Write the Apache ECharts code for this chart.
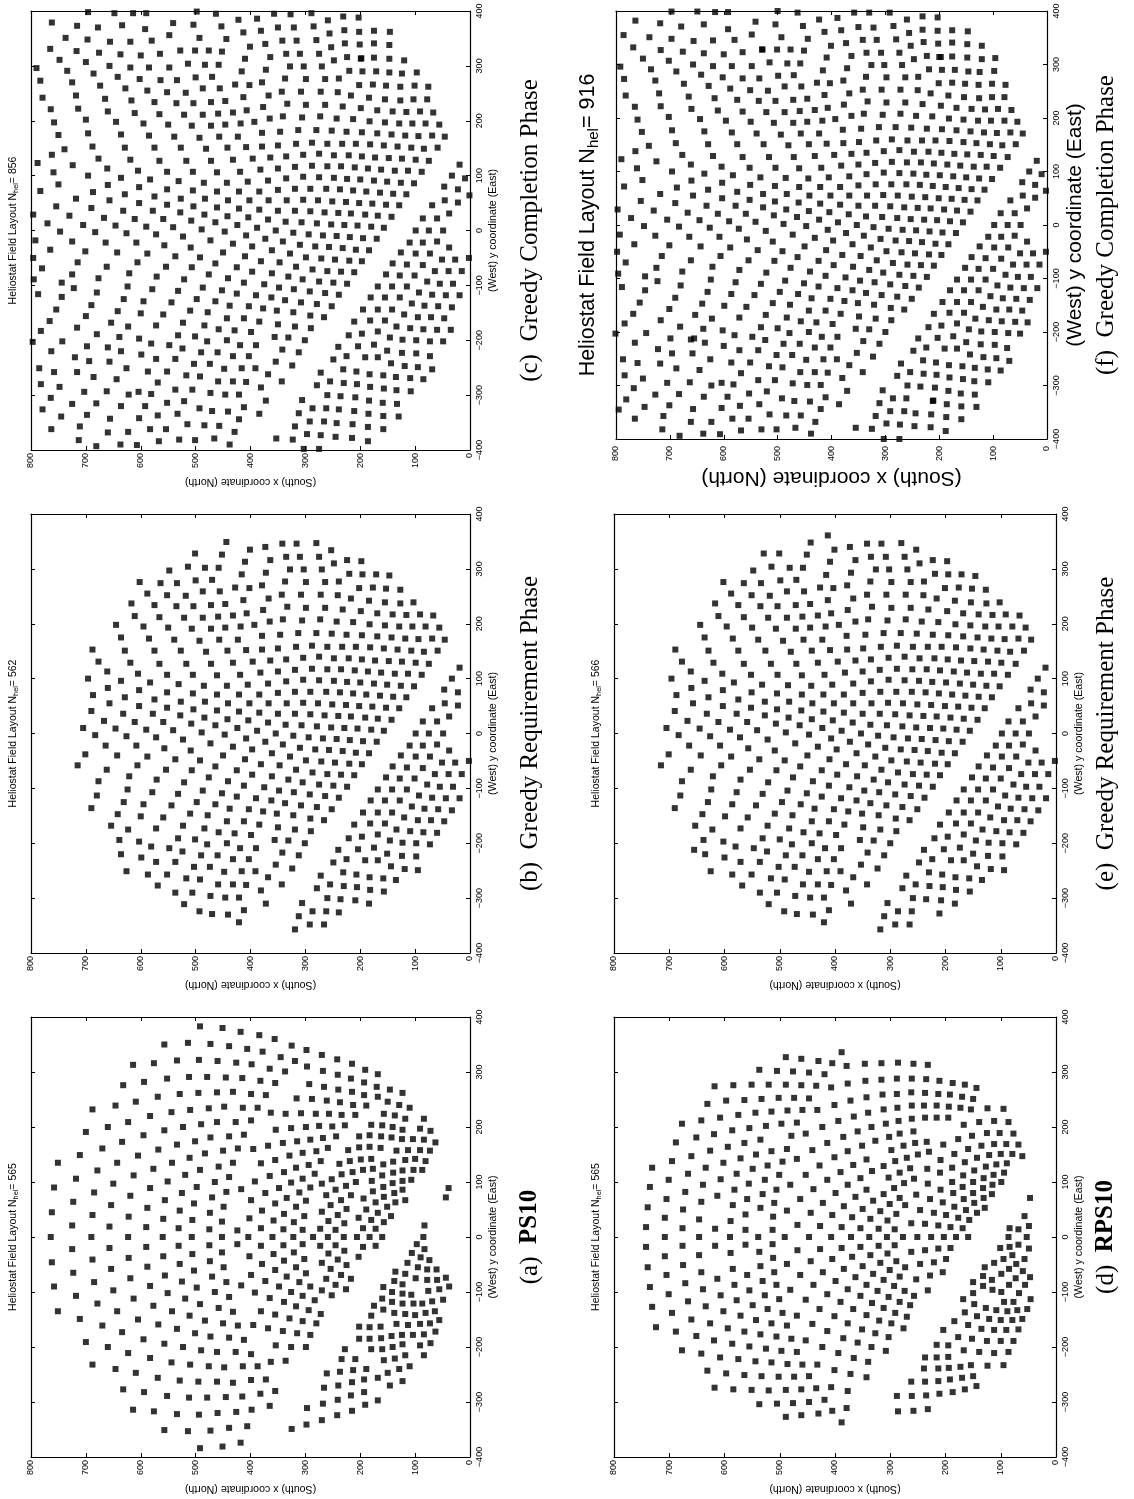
<!DOCTYPE html>
<html><head><meta charset="utf-8">
<script src="https://cdn.jsdelivr.net/npm/echarts@6/dist/echarts.min.js"></script>
<style>html,body{margin:0;padding:0;background:#fff}#c{width:1134px;height:1499px}</style>
</head><body><div id="c"></div>
<script>
// Each heliostat is [north (x coordinate), east (y coordinate)].
const fieldA=[[492,383],[451,380],[418,373],[384,367],[356,360],[557,350],[514,353],[473,351],[439,347],[406,342],[378,337],[325,348],[614,313],[576,316],[534,321],[494,322],[460,320],[426,317],[398,314],[345,327],[319,320],[298,340],[270,331],[365,306],[337,301],[297,310],[268,302],[242,323],[215,315],[191,304],[168,296],
[632,276],[594,282],[552,288],[512,291],[479,291],[445,290],[415,289],[382,284],[355,280],[293,278],[266,273],[241,295],[217,288],[193,281],[170,273],[569,255],[529,260],[495,262],[461,263],[432,264],[399,260],[372,258],[316,252],[288,251],[261,248],[240,268],[215,264],[193,258],[168,255],[146,268],[123,262],
[609,246],[688,232],[646,239],[544,227],[510,231],[476,234],[448,237],[414,235],[387,235],[363,226],[336,224],[308,225],[281,224],[257,224],[237,245],[213,240],[189,239],[150,246],[129,240],[110,235],[234,222],[209,222],[157,224],[137,221],[118,215],[84,215],
[583,220],[623,209],[660,200],[700,191],[557,194],[595,185],[523,200],[490,205],[461,209],[427,209],[399,212],[354,195],[326,198],[299,200],[275,202],[251,201],[228,203],[180,204],[160,203],[141,200],[123,195],[91,197],[72,193],
[634,173],[670,161],[711,149],[751,135],[605,148],[501,174],[473,181],[439,183],[412,186],[534,168],[568,159],[395,160],[423,161],[450,157],[483,152],[368,166],[341,171],[315,174],[291,177],[268,180],[244,183],[202,183],[183,185],[162,183],[143,181],[124,178],[104,178],[84,177],[63,172],
[280,156],[305,153],[329,148],[259,162],[222,158],[202,163],[183,164],[163,162],[134,157],[113,158],[91,158],[73,157],
[643,135],[679,121],[718,106],[758,90],[613,112],[577,124],[543,135],[511,144],[458,128],[492,122],[432,135],[381,134],[355,140],[339,118],[317,126],[294,131],[272,138],[238,133],[219,138],[199,141],[180,142],[158,132],[140,137],[118,140],[100,142],[81,138],
[519,113],[551,101],[650,97],[498,91],[583,89],[465,100],[439,109],[392,101],[365,111],[326,99],[305,106],[283,115],[270,97],[252,105],[234,114],[226,93],[208,100],[195,122],[214,118],[179,102],[177,124],[160,112],[140,117],[123,121],[103,122],[87,122],[107,104],[123,102],[141,98],
[685,81],[723,64],[619,75],[556,67],[525,80],[470,72],[444,82],[417,87],[399,67],[373,80],[348,89],[334,71],[311,81],[291,90],[299,66],[262,76],[245,86],[235,67],[217,76],[177,83],[158,91],[194,70],[157,73],[138,80],[123,86],[118,67],[136,63],[172,63],[39,89],[44,72],
[762,45],[654,58],[588,53],[688,40],[503,61],[449,55],[529,48],[474,44],[379,48],[355,61],[317,55],[339,42],[225,51],[254,58],[270,46],[241,40],[189,50],[168,44],[151,55],[144,38],[203,35],[302,38],[402,34],[622,37],[559,33],[506,31],
[725,21],[657,19],[590,18],[531,16],[475,14],[452,28],[424,12],[381,16],[358,30],[340,14],[321,27],[305,13],[273,15],[258,29],[245,13],[229,25],[195,16],[180,31],[172,15],[157,27],[83,21],
[764,0],[690,0],[623,0],[560,0],[507,0],[452,0],[404,0],[360,0],[322,0],[286,0],[259,0],[230,0],[206,0],[183,0],[160,0],[85,0],
[424,-13],[273,-16],[245,-15],[229,-25],[195,-18],[172,-16],[97,-13],[475,-15],[531,-16],[590,-18],[657,-20],[725,-22],[381,-16],[340,-15],[305,-13],[452,-28],[559,-35],[622,-38],[506,-31],[402,-35],[358,-31],[321,-28],[258,-30],[302,-40],[241,-41],[203,-36],[688,-41],[762,-46],[474,-44],[529,-49],[379,-49],[339,-43],[270,-47],[225,-51],[588,-54],[449,-55],[503,-61],[355,-60],[317,-55],[254,-58],[654,-58],[217,-76],[235,-69],[299,-66],[334,-72],[399,-69],[470,-72],[723,-65],[619,-75],[556,-70],[262,-76],[685,-82],[525,-81],[444,-82],[373,-80],[311,-82],[245,-87],[226,-95],[417,-88],[348,-90],[291,-90],[270,-97],[498,-92],[583,-89],[758,-90],[650,-97],[326,-100],[252,-106],[305,-107],[465,-100],[551,-102],[392,-101],[283,-115],[365,-111],[439,-109],[519,-112],[613,-112],[718,-107],[679,-121],[577,-125],[492,-122],[339,-118],[317,-126],[294,-133],[272,-140],[458,-129],[432,-136],[381,-135],[643,-135],[543,-135],[751,-135],[355,-141],[511,-143],[483,-152],[605,-150],[329,-148],[305,-153],[280,-157],[711,-149],[568,-159],[670,-161],[450,-157],[423,-161],[395,-160],[368,-166],[534,-167],[341,-171],[315,-175],[291,-178],[501,-175],[634,-173],[473,-181],[439,-183],[412,-187],[595,-186],[700,-191],[557,-194],[354,-197],[326,-200],[299,-200],[660,-200],[523,-200],[490,-206],[461,-209],[427,-209],[399,-213],[623,-211],[583,-220],[336,-225],[363,-227],[544,-228],[510,-232],[476,-235],[448,-237],[414,-235],[387,-235],[688,-232],[646,-240],[609,-247],[569,-256],[372,-259],[529,-261],[495,-263],[461,-263],[432,-265],[399,-260],[355,-280],[382,-285],[632,-277],[594,-282],[552,-289],[512,-292],[479,-292],[445,-291],[415,-290],[365,-307],[614,-314],[576,-317],[534,-322],[494,-323],[460,-320],[426,-318],[398,-314],[406,-344],[439,-347],[473,-352],[514,-353],[557,-351],[492,-384],[451,-381],[418,-374],
[106,-29],[90,-37],[83,-22],[114,-47],[74,-42],[95,-55],[61,-59],[78,-59],[136,-63],[118,-67],[99,-75],[78,-78],[60,-78],[44,-74],[138,-80],[123,-86],[158,-91],[38,-90],[56,-95],[76,-98],[107,-105],[123,-103],[142,-100],[160,-112],[142,-118],[123,-121],[103,-121],[87,-121],[69,-117],[49,-114],[175,-125],[158,-132],[138,-138],[118,-140],[100,-142],[81,-138],[64,-135],[180,-143],[202,-163],[183,-164],[163,-163],[134,-158],[113,-160],[91,-158],[73,-157],[56,-151],[143,-180],[124,-178],[104,-178],[84,-177],[63,-172],[202,-185],[183,-185],[162,-184],[72,-193],[91,-197],[123,-195],[141,-200],[160,-204],[180,-204],[228,-204],[84,-215],[118,-215],[137,-221],[157,-224],[209,-222],[234,-222],[110,-235],[129,-240],[150,-247],[189,-240],[213,-242],[237,-245],[261,-248],[123,-262],[146,-270],[168,-256],[193,-259],[215,-264],[240,-270],[266,-274],[168,-297],[193,-282],[217,-288],[241,-296],[268,-303],[297,-311],[191,-305],[215,-316],[242,-324],[270,-333],[298,-341],[325,-349]];
const fieldB=[[444,349],[501,328],[452,326],[401,335],[373,340],[342,346],[316,346],[280,347],[253,334],[548,297],[514,304],[483,302],[458,302],[410,313],[364,316],[335,322],[310,322],[275,322],[248,310],[224,316],[198,314],[416,290],[372,293],[328,299],[303,299],[270,299],[220,291],[196,290],[171,290],[147,288],
[602,276],[564,274],[534,274],[500,279],[470,280],[337,277],[299,276],[264,276],[239,277],[588,255],[552,252],[518,251],[487,259],[456,259],[428,266],[402,265],[379,270],[343,253],[308,253],[272,253],[241,252],[202,265],[177,266],[153,264],[127,262],
[617,237],[575,234],[535,232],[504,232],[472,234],[446,236],[413,243],[367,246],[217,246],[184,242],[155,239],[127,237],[103,239],[611,214],[566,212],[521,211],[487,211],[459,213],[432,215],[407,219],[377,225],[333,231],[299,229],[264,229],[232,226],[199,223],[169,219],[141,217],[116,216],[91,217],[67,215],
[645,198],[595,195],[550,193],[507,191],[472,191],[446,193],[418,195],[393,198],[365,204],[341,208],[306,206],[273,208],[243,204],[213,203],[183,199],[155,197],[129,195],[105,195],[81,195],[56,193],[636,175],[585,173],[539,171],[493,169],[457,171],[423,171],[379,178],[346,180],[313,183],[280,183],[252,182],[225,180],[197,179],[169,177],[143,175],[118,173],[94,172],[69,173],[46,171],
[688,153],[629,151],[575,151],[527,151],[481,149],[442,151],[408,152],[379,153],[350,155],[317,158],[288,160],[260,158],[233,158],[208,158],[182,157],[157,155],[132,153],[107,151],[84,149],[59,151],[677,131],[619,129],[566,127],[517,127],[472,127],[432,129],[396,131],[364,133],[335,135],[304,138],[275,140],[248,137],[221,137],[197,135],[173,133],[148,132],[124,131],[99,129],[75,127],[19,120],
[661,113],[605,109],[552,107],[505,107],[461,106],[419,107],[382,111],[350,113],[319,116],[288,118],[260,117],[235,117],[210,115],[186,113],[162,111],[137,109],[113,109],[88,107],[33,100],[696,100],[636,96],[583,93],[531,90],[485,87],[443,87],[405,89],[368,91],[335,95],[304,98],[275,97],[248,96],[224,94],[200,93],[175,91],[151,89],[126,87],[102,86],[47,80],[22,75],
[660,83],[603,79],[552,75],[505,73],[461,71],[421,71],[384,71],[350,74],[319,76],[291,76],[262,76],[237,75],[213,73],[189,71],[164,69],[140,67],[116,66],[687,70],[629,66],[575,62],[527,58],[483,58],[441,55],[402,55],[367,55],[334,55],[304,56],[277,55],[251,53],[226,52],[202,50],[178,49],[153,47],[129,46],[69,46],[46,55],[22,51],
[657,55],[603,50],[552,47],[504,44],[461,42],[421,40],[384,38],[350,36],[319,36],[291,35],[265,33],[240,32],[217,31],[191,29],[168,27],[143,25],[38,31],[690,41],[632,36],[578,36],[528,33],[484,29],[442,26],[404,24],[368,20],[336,16],[307,15],[279,13],[253,11],[229,10],[205,9],[180,7],[157,5],[86,22],[60,22],
[667,23],[611,21],[559,21],[508,18],[464,15],[424,10],[388,5],[354,0],[322,-4],[705,10],[646,9],[590,7],[541,6],[489,2],[447,-2],[99,0],[75,0],[49,0],[683,-3],[626,-5],[572,-7],[523,-11],[473,-18],[408,-9],[373,-15],[294,-7],[268,-9],[243,-10],[219,-12],[195,-14],[170,-15],
[664,-22],[608,-22],[557,-27],[509,-31],[432,-24],[397,-29],[341,-20],[310,-26],[282,-29],[257,-30],[232,-32],[208,-35],[184,-36],[110,-22],[86,-22],[60,-20],[38,-31],[701,-38],[643,-40],[588,-42],[537,-47],[492,-49],[450,-40],[410,-47],[361,-36],[328,-42],[299,-49],[271,-51],[246,-53],[220,-55],[197,-56],[126,-40],[99,-42],[73,-42],
[715,-58],[662,-66],[606,-58],[554,-66],[507,-67],[464,-60],[425,-67],[381,-56],[347,-58],[317,-66],[141,-60],[115,-62],[86,-63],[51,-53],[27,-53],[2,-50],[621,-78],[571,-84],[476,-80],[397,-75],[361,-78],[331,-84],[287,-71],[260,-74],[235,-75],[211,-76],[153,-80],[128,-82],[101,-82],[64,-74],[39,-74],[15,-74],
[677,-87],[521,-89],[441,-87],[412,-95],[375,-98],[305,-89],[275,-93],[249,-95],[224,-97],[78,-93],[55,-97],[31,-97],[624,-102],[579,-107],[487,-104],[452,-109],[348,-104],[321,-107],[168,-102],[142,-102],[115,-102],[93,-113],[69,-117],[44,-118],[19,-118],
[680,-113],[532,-110],[425,-115],[390,-118],[362,-122],[292,-111],[264,-114],[239,-117],[181,-122],[155,-122],[128,-122],[631,-125],[595,-129],[498,-125],[544,-131],[464,-129],[337,-127],[308,-131],[279,-134],[438,-137],[403,-138],[106,-133],[83,-137],[58,-138],[33,-140],[690,-136],
[642,-147],[600,-151],[510,-146],[478,-149],[377,-142],[352,-146],[322,-149],[252,-138],[195,-144],[168,-144],[142,-144],[120,-153],[559,-153],[654,-168],[572,-173],[523,-168],[443,-160],[412,-160],[384,-166],[350,-171],[319,-175],[291,-155],[266,-158],[211,-166],[182,-164],[155,-164],[134,-175],[95,-158],[71,-158],[47,-160],
[623,-175],[484,-173],[458,-180],[429,-182],[399,-185],[290,-178],[197,-188],[168,-184],[109,-178],[85,-180],[60,-181],[221,-191],[639,-194],[603,-197],[532,-191],[501,-193],[479,-202],[443,-200],[356,-194],[331,-195],[301,-200],[146,-195],[123,-199],[98,-200],[73,-202],
[636,-220],[581,-206],[548,-209],[524,-215],[419,-209],[390,-209],[342,-217],[240,-212],[204,-211],[175,-208],[599,-226],[490,-222],[460,-222],[432,-229],[403,-229],[312,-222],[151,-219],[124,-223],[98,-224],[225,-229],[191,-231],
[626,-251],[572,-234],[537,-234],[503,-243],[474,-243],[448,-252],[416,-251],[391,-251],[354,-239],[324,-246],[249,-235],[168,-231],[144,-242],[119,-247],[95,-249],[587,-257],[552,-257],[517,-264],[492,-266],[368,-262],[272,-259],[231,-253],[207,-257],[183,-262],[158,-264],[135,-267],
[569,-277],[459,-275],[432,-275],[408,-276],[381,-286],[343,-275],[279,-282],[255,-275],[230,-278],[206,-280],[182,-285],[157,-288],[537,-290],[506,-290],[473,-296],[446,-299],[421,-299],[260,-300],[236,-302],[209,-304],[521,-311],[372,-310],[306,-309],[184,-310],[493,-324],[470,-329],[441,-330],[412,-322],[312,-333],[287,-324],[262,-324],[239,-326],[421,-344],[319,-357],[292,-348],[266,-348]];
const fieldCExtra=[[696,398],[648,396],[614,396],[590,396],[498,399],[463,395],[357,395],[327,394],[289,396],[762,379],[716,373],[678,370],[634,374],[592,367],[541,378],[504,375],[453,372],[422,384],[388,386],[350,370],[321,370],[285,372],[259,383],[231,390],[203,388],[229,365],[202,362],[175,364],[146,362],[256,359],[381,364],[413,361],
[737,351],[697,348],[656,344],[619,344],[580,346],[548,356],[493,351],[765,331],[717,327],[676,324],[637,321],[600,319],[565,322],[528,328],[476,328],[748,311],[700,307],[657,300],[619,297],[585,297],[790,296],[734,291],[686,286],[642,280],[783,273],[725,270],[674,264],[628,259],[779,242],[718,246],[665,240],[764,221],[714,222],[660,217],[758,197],[700,202],[750,174],[696,177],[739,148],[762,138],[724,119],[788,123],[759,106],[750,84],[783,72],[718,58],[754,44],[796,29],[730,27],[770,13],[747,-2],[792,-18],[725,-20],[765,-35],[796,-50],[780,-69],[795,-89],[725,-80],[744,-95],[722,-105],[787,-116],[744,-121],[754,-144],[766,-165],[782,-183],[716,-177],[743,-202],[797,-203],[763,-220],[720,-231],[694,-238],[785,-251],[758,-258],[716,-258],[686,-267],[782,-280],[748,-285],[703,-294],[764,-305],[662,-293],[725,-316],[681,-315],[779,-326],[745,-339],[698,-336],[656,-343],[763,-362],[711,-357],[660,-368],[713,-382],[681,-393],[637,-390],[607,-391],[623,-367],[583,-362],[554,-362],[567,-384],[530,-381],[501,-382],[515,-353],[484,-355],[457,-356],[466,-379],[438,-390],[429,-367],[384,-334],[353,-379],[323,-381],[297,-371],[272,-373],[245,-376],[215,-378],[186,-384],[303,-398],[275,-398],[243,-351],[214,-353],[186,-358],[158,-362],[158,-338],[185,-334],[211,-329],[159,-314],[133,-316],[130,-339],[134,-291],[108,-293],[109,-269],[85,-271],[69,-253],[73,-229],[49,-202],[35,-181],[9,95],[1,64],[175,341],[147,338],[201,339],[228,341],[120,310],[147,313],[175,315],[199,313],[97,288],[124,286],[76,262],[101,264],[78,239],[644,-271],[604,-294],[622,-299],[581,-298],[552,-314],[636,-320],[592,-320],[603,-342],[569,-337],[533,-334],[680,-189],[698,-211],[660,-213],[657,-239],[700,-156]];
const fieldD=[[388,336],[489,327],[461,324],[430,320],[405,316],[379,311],[346,315],[316,316],[286,317],[258,315],[232,313],[537,304],[505,302],[476,301],[447,299],[419,296],[345,284],[316,286],[288,288],[261,288],[235,287],[211,284],[187,280],[165,277],[144,271],
[618,274],[584,276],[551,277],[520,277],[489,277],[461,276],[434,275],[407,272],[377,279],[631,242],[597,248],[564,249],[533,251],[502,253],[474,253],[447,252],[372,248],[343,254],[314,259],[288,260],[262,263],[237,262],[213,260],[192,259],[170,255],[150,251],
[642,212],[608,217],[575,222],[544,226],[515,228],[486,230],[459,231],[432,231],[401,240],[366,219],[340,226],[312,232],[287,235],[261,239],[239,239],[216,239],[194,237],[173,235],[154,232],[124,234],[95,233],
[677,206],[651,181],[619,187],[586,194],[555,198],[525,202],[497,206],[469,208],[423,200],[394,211],[385,182],[359,192],[334,200],[308,206],[283,188],[285,211],[258,192],[261,215],[237,217],[216,217],[195,217],[167,204],[139,209],[112,211],[86,209],[102,189],[125,189],[152,184],[77,188],
[688,172],[660,147],[626,157],[594,164],[564,171],[535,177],[515,156],[487,160],[479,184],[453,188],[441,158],[414,171],[377,156],[351,166],[327,175],[298,158],[302,182],[276,166],[255,171],[234,173],[250,150],[230,155],[204,168],[177,178],[184,151],[159,160],[135,166],[112,169],[90,169],[68,168],[121,149],[100,151],[79,151],[61,147],[143,144],
[695,138],[731,126],[634,126],[602,135],[571,143],[543,150],[495,137],[469,142],[428,130],[401,145],[367,131],[343,141],[312,129],[291,138],[270,144],[283,117],[264,125],[233,124],[209,140],[188,126],[165,136],[127,128],[108,132],[89,134],
[666,115],[701,104],[735,91],[578,115],[549,124],[522,130],[501,113],[453,113],[414,104],[390,118],[354,107],[333,120],[303,108],[275,98],[257,106],[232,97],[210,117],[188,100],[168,112],[148,121],[150,100],[131,107],[113,113],[94,117],[115,95],[99,100],
[639,95],[607,105],[582,86],[527,104],[556,97],[481,95],[439,87],[399,80],[377,95],[363,73],[343,86],[312,78],[293,89],[283,71],[273,58],[253,77],[228,69],[209,86],[186,80],[169,91],[150,80],[132,89],[116,78],
[705,69],[739,54],[671,82],[613,75],[559,69],[531,78],[506,86],[463,69],[422,62],[384,56],[350,51],[331,66],[301,60],[318,47],[289,42],[246,49],[221,44],[205,63],[184,55],[167,69],[199,40],[148,62],[163,49],[177,35],[157,31],[143,44],[129,53],[131,71],[47,71],
[675,50],[642,64],[585,58],[535,53],[510,62],[487,48],[444,44],[405,40],[369,36],[336,33],[305,30],[708,35],[646,32],[562,41],[512,37],[589,29],[57,38],
[742,18],[676,16],[617,15],[562,13],[513,13],[468,22],[427,20],[388,18],[354,16],[321,15],[292,14],[262,25],[237,24],[213,21],[191,18],[169,16],[84,16],[68,14],[49,20],
[708,0],[646,0],[590,0],[539,0],[491,0],[447,0],[407,0],[371,0],[338,0],[306,0],[277,0],[251,0],[226,0],[203,0],[181,0],[159,0],[86,0],[53,0],
[742,-18],[676,-16],[617,-16],[562,-14],[513,-13],[468,-24],[427,-22],[388,-20],[354,-18],[321,-16],[292,-15],[262,-27],[237,-24],[213,-21],[191,-20],[101,-20],[84,-18],[68,-14],[49,-21],
[708,-35],[646,-33],[589,-29],[537,-27],[512,-38],[487,-49],[444,-44],[405,-40],[369,-36],[336,-33],[305,-30],[289,-44],[246,-49],[221,-46],[199,-40],[95,-40],[79,-33],[57,-40],
[675,-51],[739,-55],[642,-64],[585,-58],[535,-53],[510,-64],[422,-64],[384,-58],[350,-53],[318,-47],[301,-60],[273,-55],[205,-64],[129,-55],[112,-47],[72,-49],[60,-62],
[705,-69],[671,-84],[613,-76],[559,-69],[531,-80],[463,-69],[363,-73],[331,-67],[283,-72],[253,-77],[228,-70],[150,-82],[132,-71],[116,-78],[99,-67],[85,-58],[73,-75],[47,-73],
[735,-91],[639,-95],[582,-87],[506,-87],[439,-87],[399,-80],[377,-95],[343,-87],[312,-78],[293,-89],[274,-98],[232,-97],[132,-89],[115,-96],[85,-87],[56,-87],
[701,-104],[666,-117],[607,-106],[555,-97],[527,-106],[481,-96],[414,-104],[354,-107],[323,-98],[303,-109],[257,-107],[150,-102],[99,-100],[67,-102],
[731,-127],[695,-138],[634,-126],[578,-115],[549,-124],[501,-113],[453,-114],[390,-118],[333,-120],[283,-118],[264,-124],[168,-113],[148,-122],[127,-129],[108,-133],[94,-118],[77,-118],[46,-113],
[660,-150],[626,-157],[602,-135],[571,-143],[543,-151],[522,-131],[495,-138],[469,-143],[428,-131],[401,-144],[367,-131],[343,-142],[312,-129],[291,-138],[270,-145],[165,-137],[143,-144],[88,-135],[70,-133],[52,-131],
[724,-164],[688,-172],[594,-166],[564,-172],[515,-157],[487,-161],[441,-158],[377,-157],[351,-168],[320,-152],[298,-157],[276,-166],[204,-169],[184,-153],[159,-160],[121,-149],[100,-151],[79,-151],[61,-149],[135,-167],[112,-169],[90,-169],[68,-168],
[651,-180],[619,-188],[586,-194],[535,-177],[506,-181],[479,-185],[453,-188],[414,-171],[385,-184],[359,-192],[327,-175],[303,-182],[177,-182],[152,-185],[125,-189],[100,-189],[77,-189],
[677,-206],[642,-212],[608,-219],[555,-199],[525,-203],[497,-207],[469,-209],[423,-200],[394,-211],[334,-200],[308,-207],[216,-196],[195,-197],[167,-206],[139,-209],[112,-211],[86,-209],
[575,-222],[544,-226],[515,-228],[486,-231],[459,-232],[432,-232],[366,-220],[340,-227],[237,-219],[216,-219],[195,-218],[173,-236],[154,-233],[124,-234],[95,-233],
[631,-243],[597,-248],[564,-251],[533,-253],[502,-254],[474,-254],[447,-253],[401,-242],[372,-249],[343,-255],[239,-239],[213,-239],[194,-238],
[618,-274],[584,-277],[551,-278],[520,-279],[489,-278],[461,-277],[434,-275],[407,-273],[377,-280],[262,-263],[237,-263],[213,-262],[192,-259],[170,-256],[150,-253],
[537,-304],[505,-303],[476,-302],[447,-300],[419,-296],[288,-289],[261,-289],[235,-288],[211,-285],[187,-282],[165,-277],[144,-271],
[489,-327],[461,-324],[430,-321],[405,-316],[379,-311],[388,-337],[286,-317],[258,-316],[232,-313]];
const fieldE=[[413,361],[444,348],[342,346],[316,346],[280,347],[373,340],[401,335],[253,335],[529,328],[501,328],[451,326],[363,316],[335,322],[308,322],[274,322],[409,313],[247,310],[223,316],[197,314],[548,297],[515,304],[482,302],[458,302],[416,289],[371,293],[326,299],[302,299],[269,299],[219,291],[195,290],[171,290],[146,287],
[602,276],[565,274],[534,274],[499,279],[470,280],[336,277],[298,276],[263,276],[239,277],[588,255],[551,252],[518,251],[487,259],[456,259],[427,266],[403,265],[378,270],[342,253],[307,253],[272,253],[240,252],[201,265],[176,266],[152,264],[127,262],
[617,237],[575,234],[535,232],[504,232],[471,234],[445,236],[413,243],[367,246],[216,246],[183,242],[154,239],[126,237],[102,239],[611,214],[565,212],[521,211],[487,211],[459,213],[431,215],[407,219],[377,225],[333,231],[298,229],[263,229],[231,226],[197,223],[168,219],[140,217],[115,216],[91,217],[66,215],
[644,198],[596,195],[550,193],[507,191],[471,191],[445,193],[417,195],[393,198],[363,204],[340,208],[305,206],[272,208],[243,204],[213,203],[182,199],[155,197],[128,195],[104,195],[79,195],[55,193],[636,175],[585,173],[539,171],[494,169],[457,171],[423,171],[379,178],[345,180],[312,183],[281,183],[252,182],[223,180],[195,179],[168,177],[142,175],[117,173],[93,172],[68,173],[45,171],
[689,153],[629,151],[575,151],[526,151],[480,149],[442,151],[409,152],[378,153],[349,155],[317,158],[288,160],[259,158],[232,158],[207,158],[181,157],[155,155],[131,153],[106,151],[83,149],[58,151],[677,131],[620,129],[565,127],[516,127],[470,127],[431,129],[395,131],[363,133],[335,135],[303,138],[274,140],[247,137],[220,137],[196,135],[172,133],[148,132],[123,131],[99,129],[73,127],[19,120],
[661,113],[604,109],[552,107],[504,107],[460,106],[419,107],[382,111],[350,113],[319,116],[288,118],[260,117],[234,117],[210,115],[185,113],[161,111],[136,109],[112,109],[87,107],[33,100],[696,100],[636,96],[583,93],[532,89],[485,88],[443,87],[405,89],[367,91],[335,95],[303,98],[274,97],[248,96],[224,94],[199,93],[174,91],[150,89],[126,87],[102,86],[46,80],[22,75],
[660,83],[603,79],[551,75],[505,73],[460,71],[421,71],[384,71],[350,74],[318,76],[289,76],[261,76],[236,75],[212,73],[188,71],[164,69],[140,67],[116,66],[687,70],[629,66],[575,62],[527,58],[483,58],[441,55],[402,55],[367,55],[334,55],[304,56],[277,55],[251,53],[226,52],[201,50],[177,49],[153,47],[129,46],[68,46],[45,55],[22,51],
[657,55],[603,50],[552,47],[505,44],[461,42],[421,40],[384,38],[350,36],[319,36],[291,35],[265,33],[240,32],[216,31],[191,29],[167,27],[142,25],[37,31],[690,41],[632,36],[578,36],[527,33],[484,29],[442,26],[404,24],[368,20],[336,16],[306,15],[278,13],[253,11],[228,10],[204,9],[180,7],[156,5],[86,22],[60,22],
[667,23],[611,21],[559,21],[507,18],[464,15],[423,10],[388,5],[353,0],[322,-4],[705,10],[645,9],[590,7],[541,6],[489,2],[447,-2],[98,0],[73,0],[49,0],[683,-3],[626,-5],[572,-7],[522,-11],[472,-18],[407,-9],[373,-15],[294,-7],[268,-9],[243,-10],[218,-12],[194,-14],[169,-15],
[664,-22],[608,-22],[557,-27],[509,-31],[431,-24],[397,-29],[340,-20],[309,-26],[281,-29],[256,-30],[232,-32],[207,-35],[183,-36],[109,-22],[85,-22],[60,-20],[37,-31],[701,-38],[643,-40],[588,-42],[537,-47],[491,-49],[450,-40],[410,-47],[361,-36],[327,-42],[298,-49],[270,-51],[245,-53],[219,-55],[196,-56],[125,-40],[98,-42],[72,-42],
[715,-58],[661,-66],[606,-58],[554,-66],[506,-67],[463,-60],[424,-67],[380,-56],[346,-58],[316,-66],[140,-60],[114,-62],[85,-63],[50,-53],[26,-53],[2,-50],[621,-78],[571,-84],[476,-80],[396,-75],[360,-78],[330,-84],[286,-71],[259,-74],[234,-75],[210,-76],[152,-80],[127,-82],[100,-82],[63,-74],[38,-74],[14,-74],
[677,-87],[521,-89],[440,-87],[411,-95],[374,-98],[304,-89],[274,-93],[248,-95],[223,-97],[77,-93],[54,-97],[30,-97],[624,-102],[578,-107],[486,-104],[451,-109],[347,-104],[320,-107],[167,-102],[141,-102],[114,-102],[92,-113],[68,-117],[43,-118],[18,-118],
[680,-113],[531,-110],[424,-115],[389,-118],[361,-122],[291,-111],[263,-114],[238,-117],[180,-122],[154,-122],[127,-122],[630,-125],[586,-129],[496,-125],[543,-131],[462,-129],[336,-127],[307,-131],[278,-134],[437,-137],[402,-138],[105,-133],[82,-137],[57,-138],[32,-140],[690,-136],
[640,-147],[599,-151],[509,-146],[477,-149],[376,-142],[351,-146],[321,-149],[251,-138],[194,-144],[167,-144],[141,-144],[119,-153],[558,-153],[653,-168],[571,-173],[522,-168],[442,-160],[411,-160],[383,-166],[349,-171],[318,-175],[290,-155],[265,-158],[210,-166],[181,-164],[154,-164],[133,-175],[94,-158],[70,-158],[46,-160],
[622,-175],[483,-173],[457,-180],[428,-182],[398,-185],[289,-178],[196,-188],[167,-184],[108,-178],[84,-180],[59,-181],[220,-191],[638,-194],[602,-197],[531,-191],[500,-193],[478,-202],[442,-200],[355,-194],[330,-195],[300,-200],[145,-195],[122,-199],[97,-200],[72,-202],
[655,-212],[635,-220],[600,-226],[547,-209],[523,-215],[580,-206],[418,-209],[389,-209],[341,-217],[239,-212],[203,-211],[174,-208],[489,-222],[459,-222],[431,-229],[402,-229],[311,-222],[150,-219],[123,-223],[97,-224],[224,-229],[190,-231],
[625,-251],[571,-234],[536,-234],[502,-243],[473,-243],[447,-252],[415,-251],[390,-251],[353,-239],[323,-246],[248,-235],[167,-231],[143,-242],[118,-247],[94,-249],[586,-257],[551,-257],[516,-264],[491,-266],[367,-262],[271,-259],[230,-253],[206,-257],[182,-262],[157,-264],[134,-267],
[568,-277],[458,-275],[431,-275],[407,-276],[380,-286],[342,-275],[278,-282],[254,-275],[229,-278],[205,-280],[181,-285],[156,-288],[536,-290],[505,-290],[472,-296],[445,-299],[420,-299],[259,-300],[235,-302],[208,-304],[520,-311],[371,-310],[305,-309],[183,-310],[492,-324],[469,-329],[440,-330],[411,-322],[311,-333],[286,-324],[261,-324],[211,-328],[420,-344],[318,-357],[291,-348],[265,-348]];
const fieldFExtra=[[697,399],[649,399],[616,398],[592,398],[500,400],[463,397],[358,397],[330,397],[292,397],[764,382],[718,377],[679,371],[637,375],[592,366],[541,380],[504,375],[453,372],[423,384],[389,387],[350,370],[322,369],[285,372],[260,384],[231,390],[203,388],[231,365],[203,363],[176,364],[147,362],[256,359],[382,364],
[786,355],[738,351],[697,348],[656,344],[620,345],[580,346],[548,356],[493,351],[768,332],[717,327],[676,324],[637,321],[600,319],[565,323],[528,328],[476,328],[750,311],[702,307],[657,300],[620,297],[585,297],[792,296],[735,291],[688,287],[642,281],[785,273],[727,270],[674,264],[628,260],[782,242],[720,246],[665,240],[765,221],[717,222],[660,217],[760,197],[702,202],[752,174],[696,177],[739,148],[764,138],[725,119],[790,123],[761,106],[751,84],[785,72],[718,58],[754,45],[797,29],[730,27],[772,13],[748,-2],[793,-18],[727,-20],[766,-36],[798,-50],[782,-70],[796,-91],[725,-80],[746,-96],[723,-105],[789,-116],[746,-122],[756,-145],[768,-166],[784,-184],[717,-178],[744,-202],[801,-203],[765,-220],[722,-232],[696,-240],[787,-251],[760,-258],[718,-259],[688,-268],[784,-281],[750,-287],[705,-295],[767,-305],[663,-294],[727,-317],[683,-316],[781,-326],[747,-340],[701,-337],[657,-344],[795,-345],[765,-362],[712,-357],[661,-368],[714,-382],[682,-394],[638,-390],[607,-391],[623,-368],[584,-362],[554,-362],[568,-384],[530,-382],[502,-382],[515,-354],[484,-356],[457,-356],[467,-379],[438,-390],[430,-368],[386,-335],[355,-379],[325,-381],[298,-371],[273,-373],[246,-376],[216,-378],[188,-385],[303,-400],[274,-400],[244,-352],[215,-354],[187,-359],[159,-363],[159,-339],[186,-335],[212,-329],[160,-315],[134,-317],[131,-340],[135,-292],[109,-294],[110,-270],[86,-272],[70,-254],[74,-230],[50,-203],[36,-182],[10,95],[2,64],[176,341],[148,338],[202,339],[229,342],[121,310],[148,313],[176,315],[200,314],[98,288],[125,286],[77,262],[102,264],[79,239],[645,-271],[604,-295],[623,-300],[582,-298],[553,-315],[637,-321],[593,-321],[604,-342],[570,-338],[534,-335],[681,-190],[699,-212],[661,-214],[658,-240],[701,-157],[121,335],[96,312]];
// Completion-phase fields start from the requirement-phase layouts.
const fieldC=fieldB.concat(fieldCExtra);
const fieldF=fieldE.concat(fieldFExtra);

const fieldNames=['565','562','856','565','566','916'];
const captions=[['(a)','PS10',true],['(b)','Greedy Requirement Phase',false],['(c)','Greedy Completion Phase',false],['(d)','RPS10',true],['(e)','Greedy Requirement Phase',false],['(f)','Greedy Completion Phase',false]];
const titleText='Heliostat Field Layout N';
const eastName='(West) y coordinate (East)';
const northName='(South) x coordinate (North)';
const fields=[fieldA,fieldB,fieldC,fieldD,fieldE,fieldF];
const boxes=[
 {l:31,t:1017,r:470,b:1457,cap:530,big:false},
 {l:31,t:514,r:470,b:953,cap:530,big:false},
 {l:31,t:11,r:470,b:450,cap:530,big:false},
 {l:614,t:1017,r:1056,b:1457,cap:1106,big:false},
 {l:614,t:514,r:1056,b:953,cap:1106,big:false},
 {l:616,t:11,r:1047,b:439,cap:1106,big:true}];

const chart=echarts.init(document.getElementById('c'),null,{renderer:'canvas'});
const F='"Liberation Sans",Arial,sans-serif';
const grid=[],xAxis=[],yAxis=[],series=[],graphic=[];
const minus=v=>String(v).replace('-','\u2212');
boxes.forEach((p,i)=>{
 const nameSize=p.big?21:10.6, titleSize=p.big?21.5:10.5;
 grid.push({left:p.l,top:p.t,width:p.r-p.l,height:p.b-p.t,containLabel:false});
 const line={show:true,onZero:false,lineStyle:{color:'#000',width:1.2}};
 const ticks={show:true,inside:true,length:4,lineStyle:{color:'#000',width:1}};
 const base={min:0,max:800,interval:100,type:'value',inverse:true,gridIndex:i,splitLine:{show:false},axisLine:line,axisTick:ticks};
 xAxis.push(Object.assign({},base,{position:'bottom',
   axisLabel:{show:true,rotate:90,fontFamily:F,fontSize:9,color:'#000',margin:p.big?7:3,showMinLabel:true,showMaxLabel:true,hideOverlap:false},
   name:northName,nameLocation:'middle',nameRotate:180,nameGap:p.big?28:26,nameTextStyle:{fontFamily:F,fontSize:nameSize,color:'#000'}}));
 xAxis.push(Object.assign({},base,{position:'top',axisLabel:{show:false}}));
 const baseY={min:-400,max:400,interval:100,type:'value',gridIndex:i,splitLine:{show:false},axisLine:line,axisTick:ticks};
 yAxis.push(Object.assign({},baseY,{position:'right',
   axisLabel:{show:true,rotate:90,fontFamily:F,fontSize:9,color:'#000',margin:5,formatter:minus,showMinLabel:true,showMaxLabel:true,hideOverlap:false},
   name:eastName,nameLocation:'middle',nameRotate:90,nameGap:p.big?17.5:18,nameTextStyle:{fontFamily:F,fontSize:nameSize,color:'#000'}}));
 yAxis.push(Object.assign({},baseY,{position:'left',axisLabel:{show:false}}));
 series.push({type:'scatter',xAxisIndex:i*2,yAxisIndex:i*2,data:fields[i],symbol:'rect',symbolSize:6,clip:false,silent:true,
   itemStyle:{color:'#000'},animation:false});
 const s=titleSize;
 graphic.push({type:'text',rotation:Math.PI/2,x:p.big?588:p.l-18,y:(p.t+p.b)/2,
   style:{text:titleText+'{s|hel}'+'{n|= '+fieldNames[i]+'}',align:'center',verticalAlign:'middle',font:s+'px '+F,fill:'#000',
     rich:{s:{fontSize:s*0.7,fontFamily:F,fill:'#000',padding:[s*0.55,0,0,0]},n:{fontSize:s,fontFamily:F,fill:'#000'}}}});
 const c=captions[i];
 graphic.push({type:'text',rotation:Math.PI/2,x:p.cap,y:(p.t+p.b)/2,
   style:{text:'{r|'+c[0]+'  }{'+(c[2]?'b':'r')+'|'+c[1]+'}',align:'center',verticalAlign:'middle',fill:'#000',
     rich:{r:{fontFamily:'"Liberation Serif",serif',fontSize:25,fill:'#000'},b:{fontFamily:'"Liberation Serif",serif',fontWeight:'bold',fontSize:25,fill:'#000'}}}});
});
chart.setOption({animation:false,backgroundColor:'#fff',grid,xAxis,yAxis,series,graphic});
</script>
</body></html>
